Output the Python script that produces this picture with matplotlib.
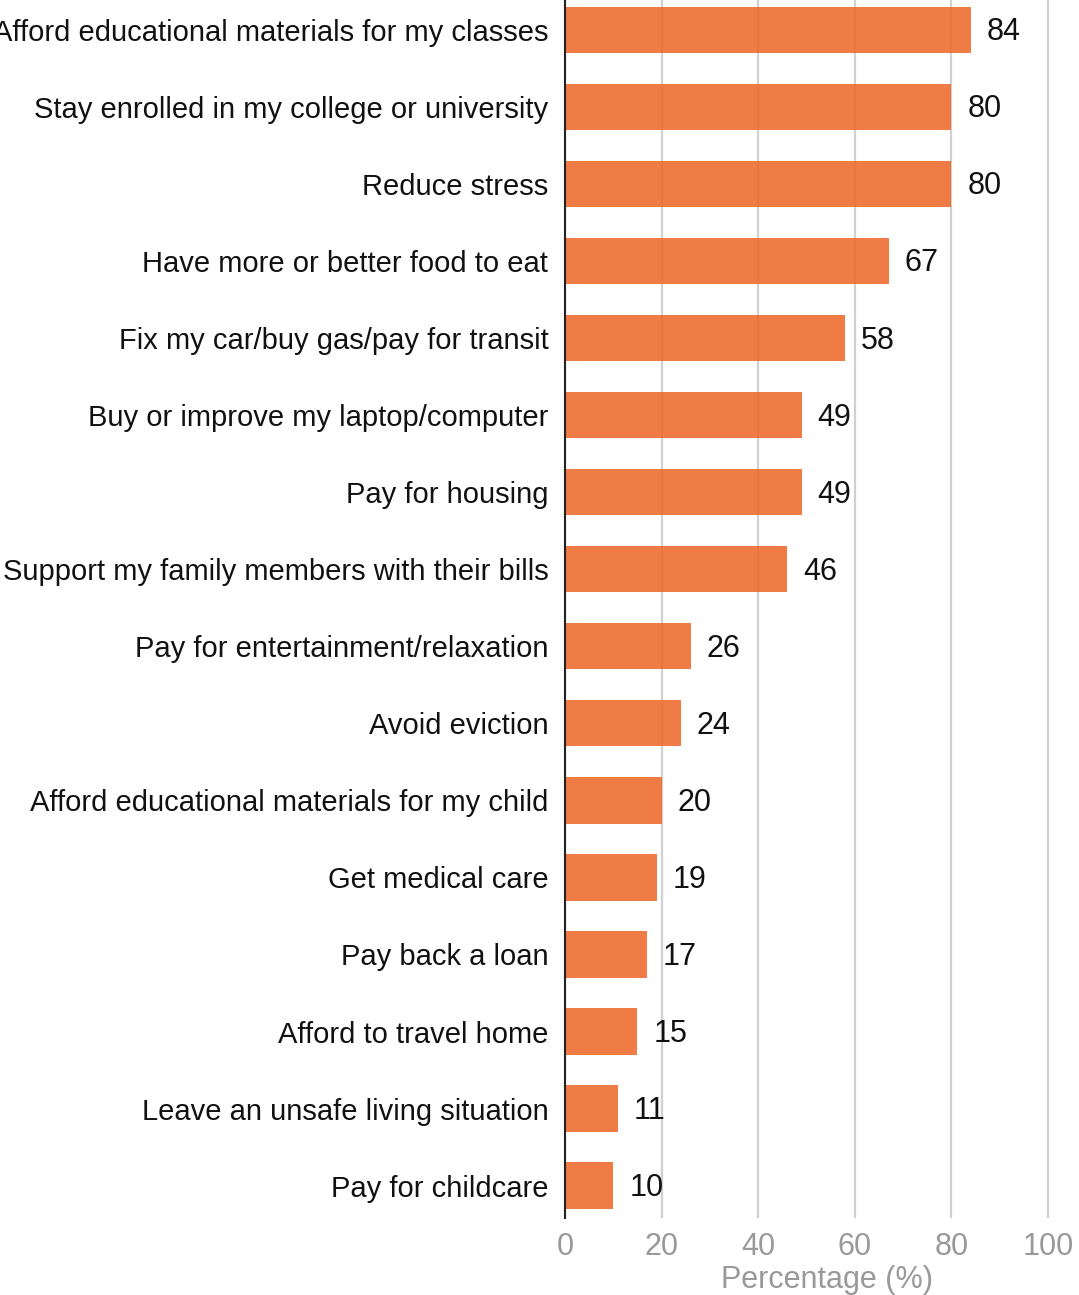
import numpy as np
import matplotlib
matplotlib.use("Agg")
import matplotlib.pyplot as plt

plt.rcParams['font.family'] = ['Liberation Sans', 'DejaVu Sans']

# survey reasons, top to bottom
reasons = [
    "Afford educational materials for my classes",
    "Stay enrolled in my college or university",
    "Reduce stress",
    "Have more or better food to eat",
    "Fix my car/buy gas/pay for transit",
    "Buy or improve my laptop/computer",
    "Pay for housing",
    "Support my family members with their bills",
    "Pay for entertainment/relaxation",
    "Avoid eviction",
    "Afford educational materials for my child",
    "Get medical care",
    "Pay back a loan",
    "Afford to travel home",
    "Leave an unsafe living situation",
    "Pay for childcare",
]
percent = [84, 80, 80, 67, 58, 49, 49, 46, 26, 24, 20, 19, 17, 15, 11, 10]
xticks = [0, 20, 40, 60, 80, 100]

fig = plt.figure(figsize=(10.79, 12.95), dpi=100)
ax = fig.add_axes([0.5236, 0.0595, 0.4764, 0.9405])

y = np.arange(len(reasons))
ax.barh(y, percent, height=0.6, color="#EE6A2B", alpha=0.88, zorder=2)

# value labels
for yi, v in zip(y, percent):
    ax.text(v + 3.3, yi + 0.03, str(v), va="center", ha="left", fontsize=22, color="#111111")

ax.set_yticks(y)
ax.set_yticklabels(reasons, fontsize=21, color="#111111")
ax.set_ylim(15.42, -0.39)
ax.set_xlim(0, 106.4)
ax.set_xticks(xticks)
ax.set_xticklabels([str(t) for t in xticks], fontsize=22, color="#999999")
ax.set_xlabel("Percentage (%)", fontsize=22, color="#999999", labelpad=-2)
ax.xaxis.set_label_coords(0.51, -0.039)

ax.tick_params(axis="y", length=0, pad=12)
ax.tick_params(axis="x", length=0, pad=10)
ax.grid(axis="x", color="#d0d0d0", linewidth=1.6, zorder=0)
ax.set_axisbelow(True)
for s in ["top", "right", "bottom"]:
    ax.spines[s].set_visible(False)
ax.spines["left"].set_color("#222222")
ax.spines["left"].set_linewidth(1.5)
ax.spines["left"].set_zorder(3)

fig.savefig("out.png", dpi=100)
